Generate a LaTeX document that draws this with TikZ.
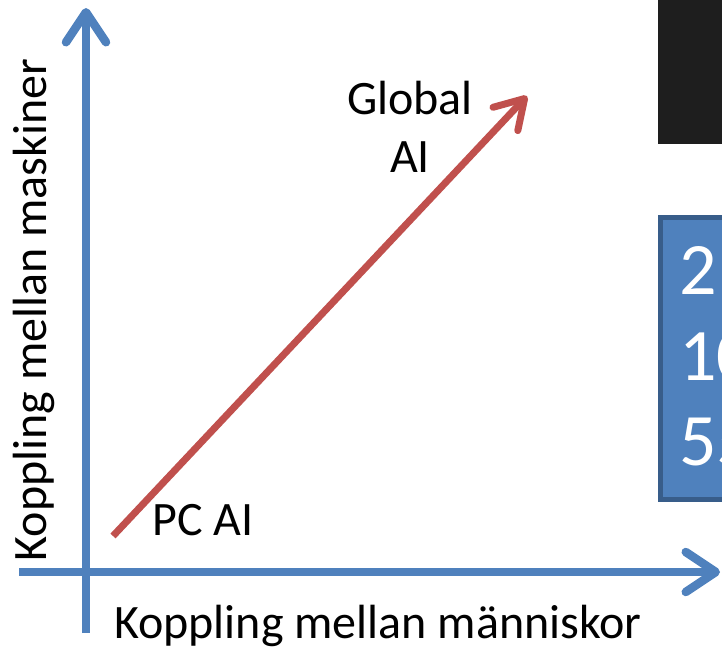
\documentclass[tikz,border=0pt]{standalone}
\usepackage{fontspec}
\setmainfont{Carlito}
\usetikzlibrary{arrows.meta}
\definecolor{axisblue}{HTML}{4F81BD}
\definecolor{boxborder}{HTML}{385D8A}
\definecolor{arrowred}{HTML}{C0504D}
\definecolor{darkbox}{HTML}{1E1E1E}
\tikzset{
  axis/.style={line width=8.5pt, draw=axisblue, line cap=butt,
    -{Straight Barb[length=30pt,width=40pt,round]}},
  trend/.style={line width=7pt, draw=arrowred, line cap=butt,
    -{Straight Barb[length=28pt,width=34pt,round]}},
  lbl/.style={font=\fontsize{48}{58}\selectfont, text=black, inner sep=0pt},
  boxtxt/.style={font=\fontsize{74}{80}\selectfont, text=white, inner sep=0pt, anchor=base west}
}
\begin{document}
\begin{tikzpicture}[x=1pt,y=-1pt]
\useasboundingbox (0,0) rectangle (722,651);
\clip (0,0) rectangle (722,651);
% dark box
\fill[darkbox] (658,0) rectangle (740,144);
% blue text box
\node[draw=boxborder, line width=5pt, fill=axisblue, minimum width=120pt, minimum height=282pt, anchor=north west, inner sep=0pt] (tb) at (658,215) {};
\node[boxtxt] (n1) at (679,294) {2};
\node[boxtxt] (n2) at (679,380) {10};
\node[boxtxt] (n3) at (679,465) {55};
% axes
\coordinate (ybot) at (86,633);
\coordinate (ytop) at (86,8);
\coordinate (xleft) at (19,572);
\coordinate (xright) at (720,572);
\draw[axis] (ybot) -- (ytop);
\draw[axis] (xleft) -- (xright);
% trend arrow
\coordinate (rs) at (113,536);
\coordinate (re) at (527,96);
\draw[trend] (rs) -- (re);
% labels
\node[lbl, align=center] (glob) at (410,127) {Global\\AI};
\node[lbl] (pc) at (203,520) {PC AI};
\node[lbl] (xl) at (378,626) {Koppling mellan människor};
\node[lbl, rotate=90] (yl) at (34,310) {Koppling mellan maskiner};
\end{tikzpicture}
\end{document}
